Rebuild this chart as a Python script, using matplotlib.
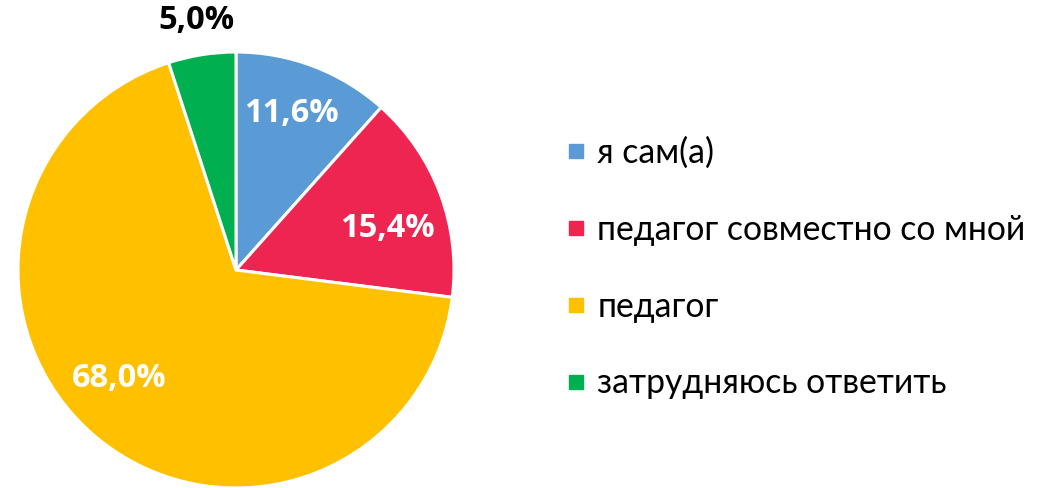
import numpy as np
import matplotlib.pyplot as plt
from matplotlib.lines import Line2D

# данные
labels = ['я сам(а)', 'педагог совместно со мной', 'педагог', 'затрудняюсь ответить']
values = [11.6, 15.4, 68.0, 5.0]
colors = ['#5B9BD5', '#EE2550', '#FFC000', '#00B050']
pct_text = ['11,6%', '15,4%', '68,0%', '5,0%']

plt.rcParams['font.family'] = ['Lato', 'DejaVu Sans']

W, H = 1038, 488
fig = plt.figure(figsize=(W / 100, H / 100), dpi=100)

# круг: центр (236, 270) px, радиус 218 px
cx, cy, r = 236, 270, 218
ax = fig.add_axes([(cx - r) / W, (H - cy - r) / H, 2 * r / W, 2 * r / H])
wedges, _ = ax.pie(values, colors=colors, startangle=90, counterclock=False,
                   radius=1, wedgeprops=dict(edgecolor='white', linewidth=2.2))
ax.set_xlim(-1, 1)
ax.set_ylim(-1, 1)
ax.set_aspect('equal')
ax.axis('off')

# подписи долей
dists = [0.76, 0.72, 0.73, 1.16]
ang_off = [1.3, -5, -7.5, 0]
tcolors = ['white', 'white', 'white', 'black']
for w, t, d, da, c in zip(wedges, pct_text, dists, ang_off, tcolors):
    ang = np.deg2rad((w.theta1 + w.theta2) / 2 + da)
    ax.text(d * np.cos(ang), d * np.sin(ang), t, ha='center', va='center',
            fontsize=23.5, fontweight='bold', color=c, clip_on=False,
            family=['Open Sans', 'DejaVu Sans'])

handles = [Line2D([], [], marker='s', ls='', color=c, markersize=10) for c in colors]
fig.legend(handles, labels, loc='center left', frameon=False,
           bbox_to_anchor=(567 / W, (H - 268) / H), borderaxespad=0, borderpad=0,
           fontsize=24.3, handlelength=0.52, handletextpad=0.38, labelspacing=1.33)

fig.savefig('out.png', dpi=100)
